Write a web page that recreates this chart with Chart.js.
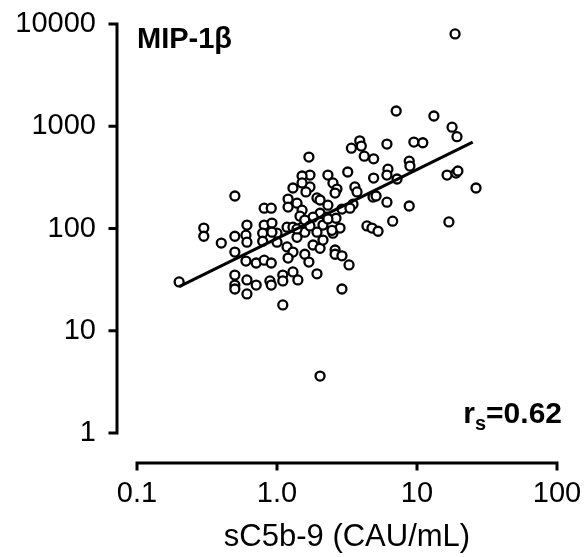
<!DOCTYPE html>
<html>
<head>
<meta charset="utf-8">
<script src="https://cdn.jsdelivr.net/npm/chart.js@4.4.1/dist/chart.umd.min.js"></script>
<style>
  html, body { margin: 0; padding: 0; background: #fff; }
</style>
</head>
<body>
<canvas id="myChart" width="587" height="557"></canvas>
<script>
  // values (x = sC5b-9, y = MIP-1b)
  const sc5b9 = [
    7.1, 13.2, 17.8, 19.3, 3.9, 3.4, 4.0, 4.2, 4.9, 6.1,
    9.5, 11.0, 1.69, 8.8, 8.9, 6.2, 6.1, 7.2, 4.9, 3.2,
    1.72, 1.51, 2.31, 2.51, 2.68, 2.6, 1.72, 1.61, 3.6, 3.73,
    1.93, 2.03, 4.85, 5.1, 6.1, 16.4, 19.0, 19.6, 26.4, 8.8,
    2.91, 3.49, 3.32, 2.31, 2.03, 1.81, 2.27, 2.64, 6.7, 16.9,
    4.39, 4.77, 5.27, 2.82, 2.13, 1.64, 1.30, 1.51, 0.50, 1.20,
    1.39, 0.81, 0.91, 1.20, 1.51, 1.46, 0.61, 0.30, 1.18, 1.30,
    1.51, 0.81, 0.92, 0.20, 0.30, 0.40, 0.50, 0.60, 0.61, 0.50,
    0.79, 0.79, 1.0, 1.0, 1.39, 1.58, 1.18, 1.30, 1.58, 1.69,
    1.81, 2.03, 1.93, 2.13, 2.51, 2.6, 2.6, 2.91, 1.20, 0.60,
    0.71, 0.81, 0.91, 0.50, 0.50, 0.50, 0.61, 0.71, 0.61, 0.89,
    0.91, 1.10, 1.10, 1.30, 1.41, 1.93, 2.91, 1.10, 3.27, 2.03,
    18.7, 1.58, 1.72, 2.47, 2.31, 1.39, 0.92
  ];
  const mip1b = [
    1410, 1260, 980, 790, 720, 610, 640, 510, 480, 670,
    700, 690, 500, 456, 408, 380, 333, 305, 311, 357,
    333, 326, 333, 279, 243, 222, 255, 228, 255, 228,
    199, 190, 203, 208, 181, 333, 348, 365, 249, 166,
    155, 173, 158, 169, 141, 129, 129, 126, 118, 116,
    106, 101, 94, 101, 108, 113, 249, 279, 208, 194,
    177, 158, 158, 162, 151, 132, 108, 101, 103, 103,
    103, 108, 113, 30, 84, 72, 84, 86, 73.5, 58.8,
    90, 75, 90, 73.5, 82, 92, 66, 58.8, 56, 47,
    69, 64, 92, 77, 90, 61.6, 56, 54, 51.4, 48,
    46, 49, 46, 35, 28, 25.6, 31.4, 28, 22.9, 30.7,
    28, 35, 30.7, 37.6, 31.4, 36, 25.6, 17.9, 44, 3.6,
    8000, 121, 106, 96, 124, 99, 92
  ];
  // regression line end points
  const fitX = [0.2, 25];
  const fitY = [27, 700];

  const xTicks = [0.1, 1, 10, 100];
  const xTickLabels = ['0.1', '1.0', '10', '100'];
  const yTicks = [1, 10, 100, 1000, 10000];
  const yTickLabels = ['1', '10', '100', '1000', '10000'];

  const FONT = '"Liberation Sans", Arial, sans-serif';

  const points = sc5b9.map((v, i) => ({ x: v, y: mip1b[i] }));
  const fitLine = fitX.map((v, i) => ({ x: v, y: fitY[i] }));

  // axes sit away from the plot area, so draw them by hand
  const detachedAxes = {
    id: 'detachedAxes',
    afterDraw(chart) {
      const { ctx, chartArea, scales } = chart;
      const x = scales.x, y = scales.y;
      ctx.save();
      ctx.strokeStyle = '#000';
      ctx.lineWidth = 3;
      ctx.lineCap = 'square';

      const ax = chartArea.left - 20;
      ctx.beginPath();
      ctx.moveTo(ax, y.getPixelForValue(yTicks[0]));
      ctx.lineTo(ax, y.getPixelForValue(yTicks[yTicks.length - 1]));
      yTicks.forEach(v => {
        const py = y.getPixelForValue(v);
        ctx.moveTo(ax, py);
        ctx.lineTo(ax - 7, py);
      });
      ctx.stroke();

      const ay = chartArea.bottom + 30;
      ctx.beginPath();
      ctx.moveTo(x.getPixelForValue(xTicks[0]), ay);
      ctx.lineTo(x.getPixelForValue(xTicks[xTicks.length - 1]), ay);
      xTicks.forEach(v => {
        const px = x.getPixelForValue(v);
        ctx.moveTo(px, ay);
        ctx.lineTo(px, ay + 6);
      });
      ctx.stroke();

      ctx.fillStyle = '#000';
      ctx.textBaseline = 'alphabetic';
      ctx.textAlign = 'left';
      ctx.font = 'bold 29px ' + FONT;
      ctx.fillText('MIP-1β', chartArea.left, 48);

      // r with subscript s
      const big = 'bold 30px ' + FONT, small = 'bold 20px ' + FONT;
      ctx.font = big;
      const wr = ctx.measureText('r').width;
      const wv = ctx.measureText('=0.62').width;
      ctx.font = small;
      const ws = ctx.measureText('s').width;
      let sx = chartArea.right + 5 - (wr + ws + wv);
      const base = 423;
      ctx.font = big;
      ctx.fillText('r', sx, base);
      ctx.font = small;
      ctx.fillText('s', sx + wr, base + 7);
      ctx.font = big;
      ctx.fillText('=0.62', sx + wr + ws, base);
      ctx.restore();
    }
  };

  const ctx = document.getElementById('myChart').getContext('2d');
  const myChart = new Chart(ctx, {
    type: 'scatter',
    data: {
      datasets: [
        {
          label: 'fit',
          data: fitLine,
          showLine: true,
          borderColor: '#000',
          borderWidth: 3,
          pointRadius: 0,
          fill: false
        },
        {
          label: 'MIP-1β',
          data: points,
          pointRadius: 4.5,
          pointBorderWidth: 2.3,
          pointBackgroundColor: '#fff',
          pointBorderColor: '#000'
        }
      ]
    },
    options: {
      responsive: false,
      animation: false,
      layout: { padding: { left: 0, right: 30, top: 24, bottom: 0 } },
      plugins: {
        legend: { display: false },
        tooltip: { enabled: false }
      },
      scales: {
        x: {
          type: 'logarithmic',
          min: 0.1,
          max: 100,
          grid: { display: false, drawTicks: false },
          border: { display: false },
          afterBuildTicks: s => { s.ticks = xTicks.map(v => ({ value: v })); },
          afterFit: s => { s.height = 124; s.paddingLeft = 0; s.paddingRight = 0; },
          ticks: {
            color: '#000',
            padding: 44,
            maxRotation: 0,
            font: { family: FONT, size: 29 },
            callback: v => xTickLabels[xTicks.indexOf(v)]
          },
          title: {
            display: true,
            text: 'sC5b-9 (CAU/mL)',
            color: '#000',
            font: { family: FONT, size: 31 },
            padding: { top: 0, bottom: 1 }
          }
        },
        y: {
          type: 'logarithmic',
          min: 1,
          max: 10000,
          grid: { display: false, drawTicks: false },
          border: { display: false },
          afterBuildTicks: s => { s.ticks = yTicks.map(v => ({ value: v })); },
          afterFit: s => { s.width = 137; s.paddingTop = 0; s.paddingBottom = 0; },
          ticks: {
            color: '#000',
            padding: 41,
            font: { family: FONT, size: 29 },
            callback: v => yTickLabels[yTicks.indexOf(v)]
          }
        }
      }
    },
    plugins: [detachedAxes]
  });
</script>
</body>
</html>
